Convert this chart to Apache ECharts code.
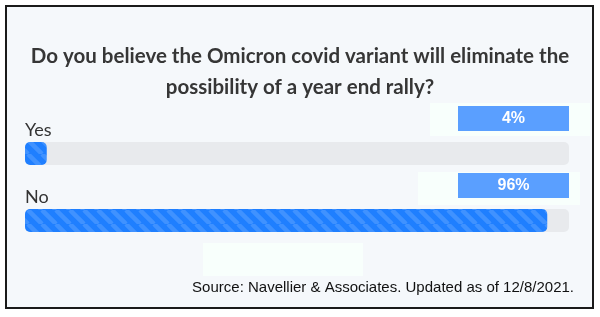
<!DOCTYPE html>
<html><head><meta charset="utf-8">
<script src="https://cdn.jsdelivr.net/npm/echarts@6/dist/echarts.min.js"></script>
<style>html,body{margin:0;padding:0;background:#fff}#c{width:600px;height:317px}</style>
</head><body><div id="c"></div>
<script>
const categories = ['Yes', 'No'];
const values = [4, 96];
const valueLabels = ['4%', '96%'];
const titleText = 'Do you believe the Omicron covid variant will eliminate the\npossibility of a year end rally?';
const sourceText = 'Source: Navellier & Associates. Updated as of 12/8/2021.';

function stripeCanvas() {
  const s = 14, c = document.createElement('canvas');
  c.width = s; c.height = s;
  const g = c.getContext('2d');
  g.fillStyle = '#1f7fff'; g.fillRect(0, 0, s, s);
  g.strokeStyle = 'rgba(110,175,255,0.42)'; g.lineWidth = 4.5;
  for (let k = -1; k <= 1; k++) {
    g.beginPath(); g.moveTo(k * s, 0); g.lineTo(k * s + s, s); g.stroke();
  }
  return c;
}

const chart = echarts.init(document.getElementById('c'), null, {renderer: 'canvas'});
chart.setOption({
  animation: false,
  backgroundColor: '#ffffff',
  graphic: [
    {type: 'rect', shape: {x: 6, y: 6, width: 587, height: 302}, style: {fill: '#f5f8fb', stroke: '#1a1a1a', lineWidth: 2}, z: -10},
    {type: 'rect', shape: {x: 430, y: 103, width: 160, height: 33}, style: {fill: '#f8fffc'}, z: -5},
    {type: 'rect', shape: {x: 418, y: 172, width: 162, height: 33}, style: {fill: '#f8fffc'}, z: -5},
    {type: 'rect', shape: {x: 203, y: 243, width: 160, height: 33}, style: {fill: '#f8fffc'}, z: -5},
    {type: 'text', x: 300, y: 41, z: 5, style: {
      text: titleText, align: 'center', verticalAlign: 'top',
      font: 'bold 20.5px Lato', fill: '#363636', lineHeight: 31
    }},
    {type: 'text', x: 574, y: 288, z: 5, style: {
      text: sourceText, align: 'right', verticalAlign: 'middle',
      font: '15px "Liberation Sans"', fill: '#111'
    }}
  ],
  grid: {left: 25, right: 31, top: 120, height: 134},
  xAxis: {type: 'value', min: 0, max: 100, show: false},
  yAxis: {type: 'category', data: categories, inverse: true, show: false},
  series: [{
    type: 'bar', data: values, barWidth: 23,
    showBackground: true,
    backgroundStyle: {color: '#e8eaed', borderRadius: 5},
    itemStyle: {color: {image: stripeCanvas(), repeat: 'repeat'}, borderRadius: 5},
    label: {show: true, position: [0, -12], formatter: '{b}', fontFamily: 'Lato', fontSize: 18, color: '#333', align: 'left', verticalAlign: 'middle'}
  }, {
    type: 'bar', data: values, barWidth: 23, barGap: '-100%',
    itemStyle: {color: 'rgba(0,0,0,0)'},
    label: {
      show: true, position: [488.5, -23.5], align: 'center', verticalAlign: 'middle',
      formatter: p => valueLabels[p.dataIndex],
      backgroundColor: '#5a9fff', width: 111, height: 25, lineHeight: 25, padding: 0,
      fontFamily: 'Liberation Sans', fontWeight: 'bold', fontSize: 16, color: '#fff'
    }
  }]
});
</script></body></html>
